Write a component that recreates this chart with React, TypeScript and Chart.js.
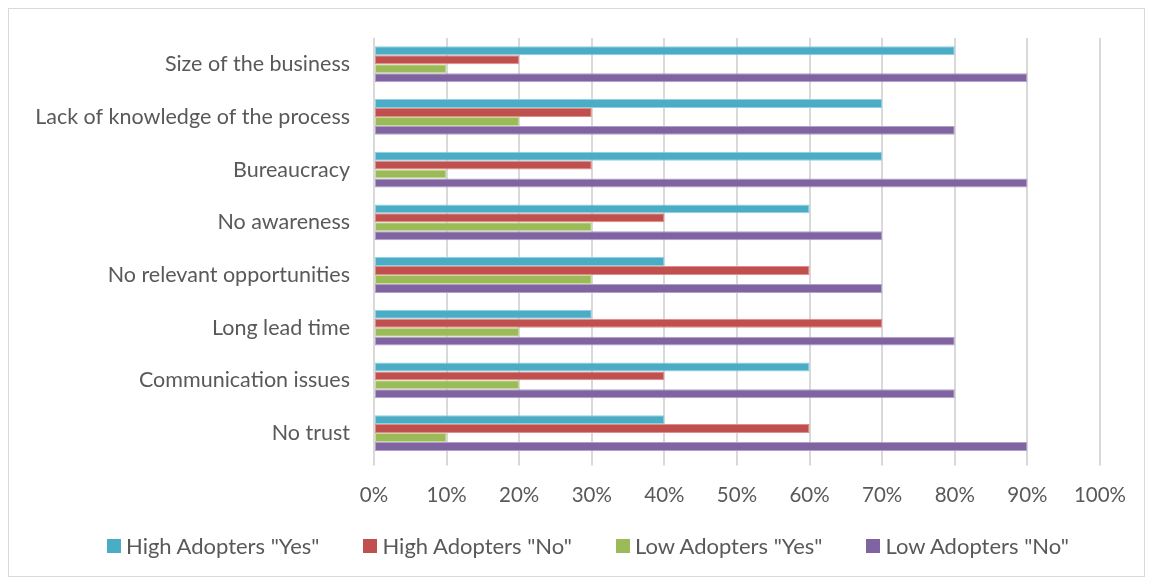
import React, { useEffect, useRef } from "react";
import { Chart, registerables } from "chart.js";

Chart.register(...registerables);

const categories = [
  "Size of the business",
  "Lack of knowledge of the process",
  "Bureaucracy",
  "No awareness",
  "No relevant opportunities",
  "Long lead time",
  "Communication issues",
  "No trust",
];
const highYes = [80, 70, 70, 60, 40, 30, 60, 40];
const highNo = [20, 30, 30, 40, 60, 70, 40, 60];
const lowYes = [10, 20, 10, 30, 30, 20, 20, 10];
const lowNo = [90, 80, 90, 70, 70, 80, 80, 90];
const seriesNames = [
  'High Adopters "Yes"',
  'High Adopters "No"',
  'Low Adopters "Yes"',
  'Low Adopters "No"',
];
const seriesColors = ["#4BACC6", "#C0504D", "#9BBB59", "#8064A2"];
const seriesBorders = ["#8fd0e2", "#e08d8b", "#c6db9c", "#b3a0ca"];

const FONT = "Lato, 'Noto Sans', sans-serif";

export default function App() {
  const ref = useRef<HTMLCanvasElement | null>(null);
  useEffect(() => {
    if (!ref.current) return;
    const series = [highYes, highNo, lowYes, lowNo];
    const chart = new Chart(ref.current, {
      type: "bar",
      data: {
        labels: categories,
        datasets: series.map((data, i) => ({
          label: seriesNames[i],
          data,
          backgroundColor: seriesColors[i],
          borderColor: seriesBorders[i],
          borderWidth: 1,
          borderSkipped: false,
          barPercentage: 1,
          categoryPercentage: 0.68,
        })),
      },
      options: {
        indexAxis: "y",
        animation: false,
        responsive: false,
        maintainAspectRatio: false,
        layout: { padding: { top: 25, right: 43, left: 0, bottom: 50 } },
        plugins: {
          tooltip: { enabled: false },
          legend: { display: false },
        },
        scales: {
          x: {
            min: 0,
            max: 100,
            ticks: {
              stepSize: 10,
              color: "#595959",
              font: { family: FONT, size: 20.5 },
              padding: 18,
              callback: (v: any) => v + "%",
            },
            grid: {
              color: "#d9d9d9",
              lineWidth: 2,
              drawTicks: true,
              tickLength: 6,
            },
            border: { display: false },
          },
          y: {
            ticks: {
              color: "#595959",
              font: { family: FONT, size: 21.5 },
              padding: 16,
            },
            grid: { display: false },
            border: { display: false },
            afterFit: (s: any) => {
              s.width = 365;
            },
          },
        },
      },
    });
    return () => chart.destroy();
  }, []);
  return (
    <div
      style={{
        position: "relative",
        width: 1137,
        height: 569,
        border: "1px solid #d9d9d9",
        boxSizing: "border-box",
        background: "#fff",
      }}
    >
      <canvas ref={ref} width={1135} height={567} />
      <div
        style={{
          position: "absolute",
          left: 98,
          top: 523,
          display: "flex",
          alignItems: "center",
          fontFamily: FONT,
          fontSize: 22,
          color: "#595959",
          whiteSpace: "nowrap",
        }}
      >
        {seriesNames.map((name, i) => (
          <div
            key={name}
            style={{
              display: "flex",
              alignItems: "center",
              marginRight: i < seriesNames.length - 1 ? 44 : 0,
            }}
          >
            <span
              style={{
                display: "inline-block",
                width: 14,
                height: 14,
                background: seriesColors[i],
                marginRight: 5,
              }}
            />
            <span>{name}</span>
          </div>
        ))}
      </div>
    </div>
  );
}
